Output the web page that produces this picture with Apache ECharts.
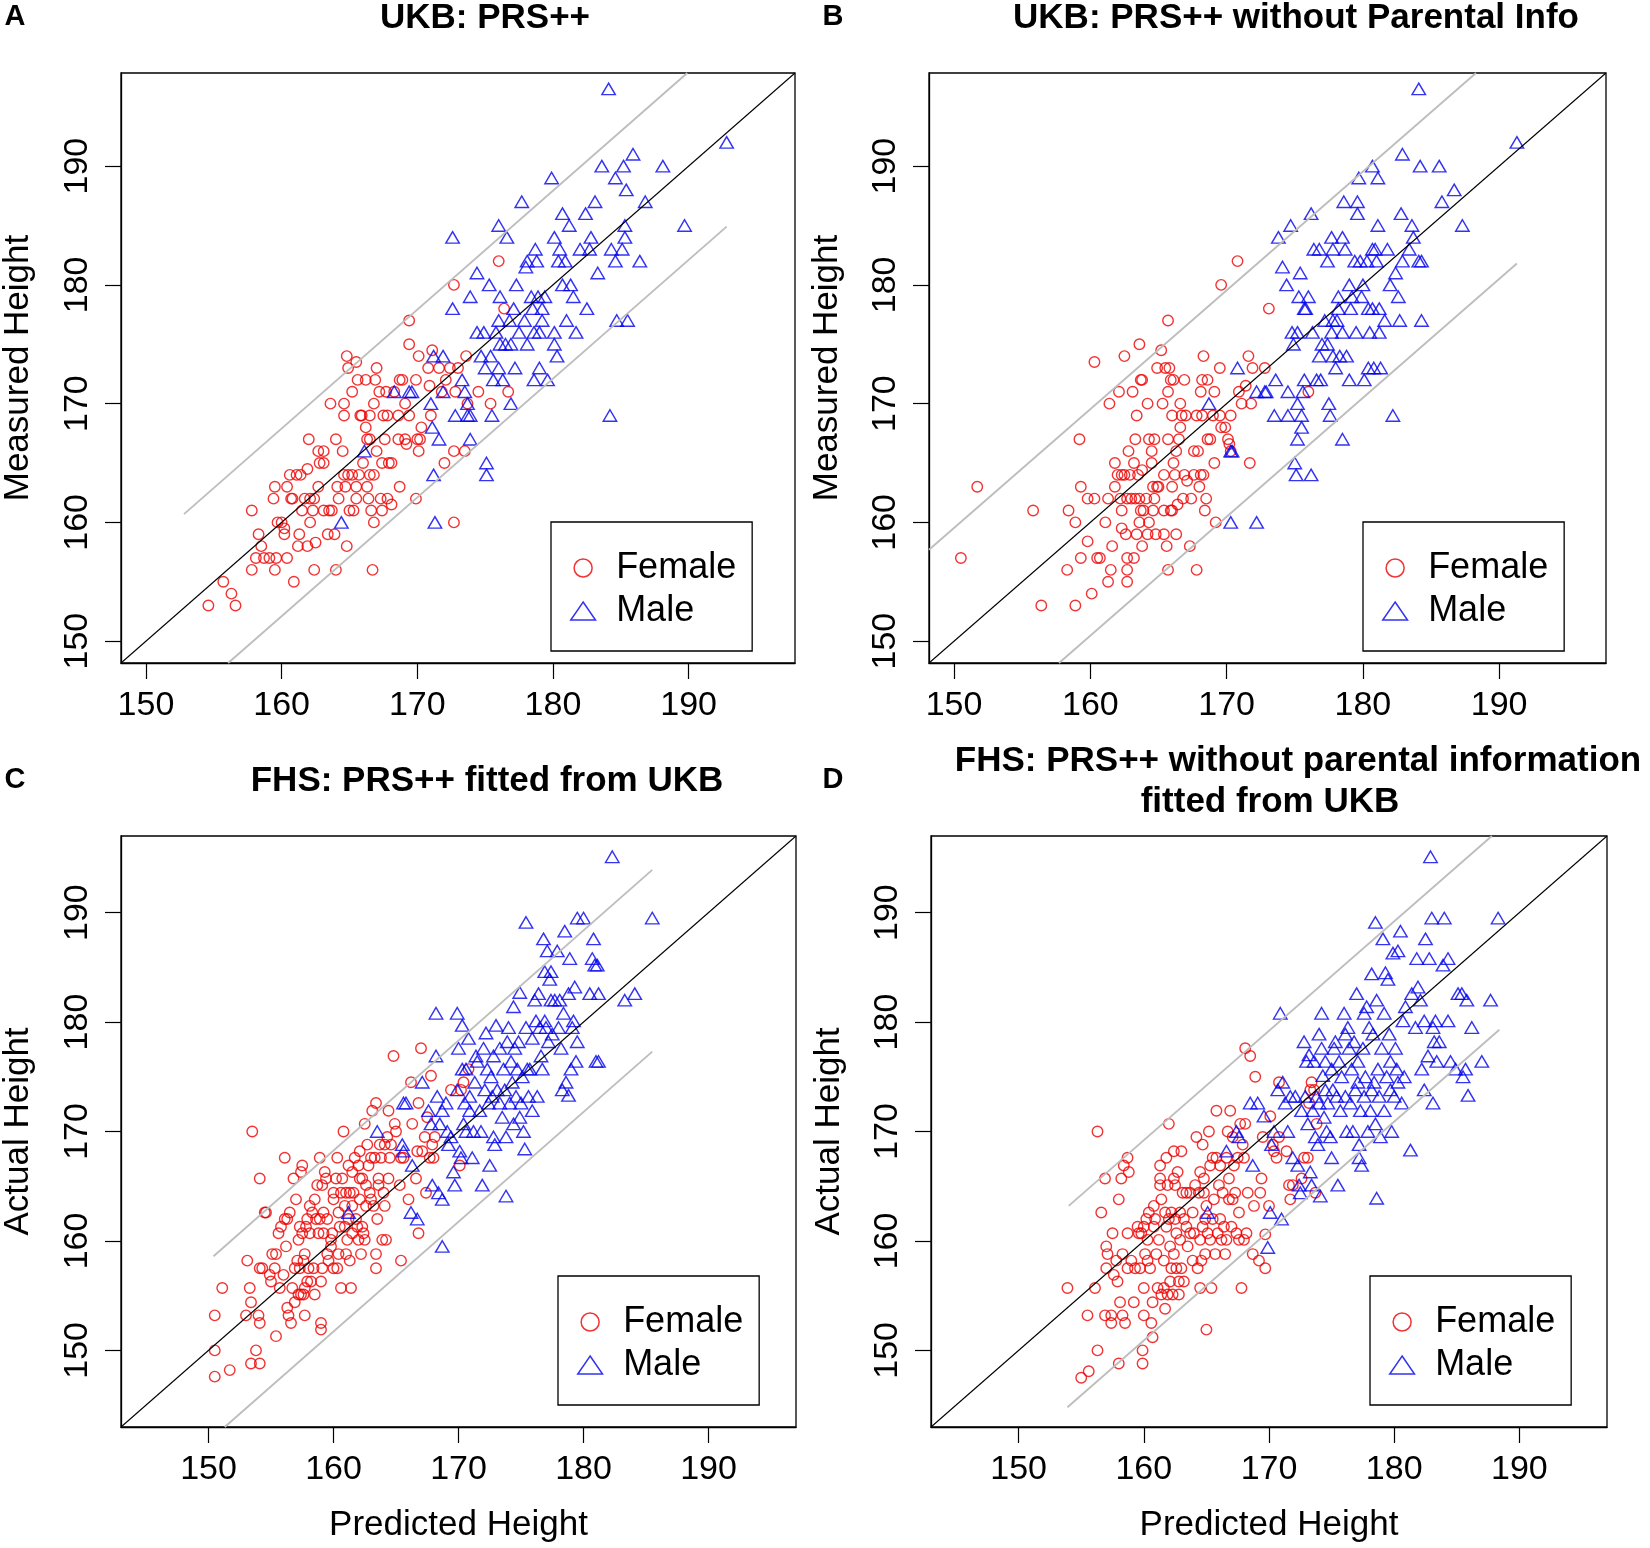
<!DOCTYPE html>
<html>
<head>
<meta charset="utf-8">
<script src="https://cdn.jsdelivr.net/npm/echarts@6.0.0/dist/echarts.min.js"></script>
<style>
html,body{margin:0;padding:0;background:#fff;}
#chart{width:1650px;height:1548px;}
</style>
</head>
<body>
<div id="chart"></div>
<script>
// ---------- Data (Predicted height, Measured/Actual height) ----------
const tickValues = [150, 160, 170, 180, 190];

const aFemale = [[154.6,153],[155.7,155],[156.3,154],[156.6,153],[157.8,156],[157.8,161],[158.1,157],[158.3,159],[158.5,158],[158.7,157],[159.1,157],[159.4,162],[159.5,163],[159.5,156],[159.6,157],[159.7,160],[160.0,160],[160.2,159.5],[160.2,159],[160.4,157],[160.4,163],[160.6,164],[160.7,162],[160.8,162],[160.9,155],[161.1,164],[161.3,159],[161.2,158],[161.4,164],[161.5,161],[161.7,162],[161.9,158],[161.9,164.5],[162.0,167],[162.1,160],[162.1,162],[162.3,161],[162.4,162],[162.4,156],[162.5,158.3],[162.7,166],[162.7,163],[162.8,165],[163.1,165],[163.1,166],[163.1,161],[163.4,159],[163.5,161],[163.6,170],[163.7,161],[163.9,159],[164.0,156],[164.0,167],[164.1,163],[164.2,162],[164.5,166],[164.6,169],[164.6,170],[164.6,164],[164.7,163],[164.8,158],[164.8,174],[164.9,173],[164.9,164],[165.0,161],[165.2,171],[165.2,164],[165.3,161],[165.5,162],[165.5,163],[165.5,173.5],[165.6,172],[165.7,164],[165.8,169],[165.9,169],[166.0,165],[166.2,172],[166.2,168],[166.3,167],[166.3,163],[166.4,162],[166.5,167],[166.5,169],[166.5,164],[166.6,161],[166.7,156],[166.8,170],[166.8,160],[166.8,164],[166.9,172],[167.0,173],[167.0,166],[167.2,171],[167.3,162],[167.4,165],[167.4,161],[167.5,169],[167.6,167],[167.7,171],[167.8,169],[167.8,162],[167.9,165],[168.1,161.5],[168.1,165],[168.3,171],[168.6,169],[168.6,167],[168.7,172],[168.7,163],[168.9,172],[169.1,167],[169.1,170],[169.2,166.6],[169.4,177],[169.4,175],[169.4,169],[169.9,172],[169.9,162],[170.0,167],[170.1,166],[170.1,174],[170.2,167],[170.3,168],[170.8,173],[170.9,171.5],[171.0,169],[171.1,174.5],[171.6,173],[171.8,171],[172.0,165],[172.1,172],[172.4,173],[172.7,180],[172.7,166],[172.7,160],[172.8,171],[173.0,173],[173.5,166],[173.6,174],[173.7,170],[174.5,171],[175.4,170],[176.0,182],[176.4,178],[176.7,171]];

const aMale = [[164.4,160],[166.1,166],[168.3,171],[169.4,171],[169.6,171],[171.0,170],[171.1,168],[171.2,164],[171.3,160],[171.2,174],[171.6,167],[171.9,174],[171.9,171],[172.6,184],[172.6,178],[172.8,169],[173.3,172],[173.5,171],[173.7,170],[173.7,169],[173.9,169],[173.9,167],[173.9,179],[174.4,181],[174.4,176],[174.7,174],[174.9,176],[175.0,173],[175.1,165],[175.1,164],[175.3,180],[175.4,174],[175.5,169],[175.6,172],[175.8,176],[176.0,173],[176.0,185],[176.0,177],[176.1,179],[176.1,175],[176.3,172],[176.5,175],[176.6,184],[176.8,177],[176.9,175],[176.9,170],[177.1,178],[177.2,173],[177.3,180],[177.5,176],[177.7,187],[177.9,177],[178.0,181.5],[178.1,175],[178.1,182],[178.4,179],[178.5,178],[178.6,176],[178.6,172],[178.7,183],[178.8,182],[178.9,179],[179.0,173],[179.0,176],[179.2,177],[179.2,178],[179.4,179],[179.6,172],[179.9,189],[180.1,176],[180.1,184],[180.1,175],[180.3,174],[180.4,182],[180.5,183],[180.7,186],[180.7,180],[180.9,182],[181.0,177],[181.2,185],[181.3,180],[181.5,179],[181.7,176],[182.0,183],[182.4,186],[182.5,178],[182.7,183],[182.8,184],[183.1,187],[183.3,181],[183.6,190],[184.1,196.5],[184.2,169],[184.3,183],[184.6,182],[184.6,189],[184.7,177],[185.1,183],[185.2,190],[185.3,184],[185.3,185],[185.4,188],[185.5,177],[185.9,191],[186.4,182],[186.8,187],[188.1,190],[189.7,185],[192.8,192]];

const bFemale = [[150.5,157],[151.7,163],[155.8,161],[156.4,153],[158.3,156],[158.4,161],[158.9,160],[158.9,153],[159.2,167],[159.3,157],[159.3,163],[159.8,162],[159.8,158.4],[160.1,154],[160.3,162],[160.3,173.5],[160.5,157],[160.7,157],[161.1,160],[161.3,155],[161.3,162],[161.4,170],[161.5,156],[161.6,158],[161.8,165],[161.8,163],[162.0,164],[162.1,171],[162.2,162],[162.3,164],[162.3,161],[162.3,159.5],[162.5,174],[162.5,164],[162.6,159],[162.7,156],[162.7,155],[162.7,157],[162.7,162],[162.8,166],[162.9,164],[163.0,162],[163.1,171],[163.2,157],[163.2,165],[163.3,162],[163.3,167],[163.4,169],[163.4,159],[163.5,164],[163.6,175],[163.6,162],[163.6,160],[163.7,172],[163.7,161],[163.8,164.4],[163.8,158],[163.8,172],[163.9,161],[164.1,162],[164.2,170],[164.2,159],[164.3,167],[164.3,160],[164.5,165],[164.5,166],[164.6,161],[164.6,163],[164.7,167],[164.7,162],[164.8,159],[164.9,163],[165.0,163],[164.9,173],[165.2,174.5],[165.3,170],[165.4,159],[165.4,164],[165.4,161],[165.5,173],[165.7,171],[165.6,158],[165.7,167],[165.7,156],[165.7,177],[165.8,173],[165.9,161],[165.9,172],[166.0,161],[166.0,163],[166.0,169],[166.1,172],[166.1,165],[166.2,164],[166.3,159],[166.3,166],[166.4,161.5],[166.5,167],[166.6,168],[166.6,170],[166.7,169],[166.8,162],[166.9,172],[166.9,164],[167.0,169],[167.1,163.5],[167.3,158],[167.4,162],[167.6,166],[167.6,164],[167.8,169],[167.8,156],[167.9,166],[168.0,163],[168.1,164],[168.1,171],[168.2,172],[168.2,169],[168.3,174],[168.3,164],[168.4,161],[168.5,162],[168.6,172],[168.6,167],[168.8,167],[169.0,169],[169.1,165],[169.1,171],[169.2,160],[169.5,173],[169.5,169],[169.6,168],[169.6,180],[169.9,168],[170.1,167],[170.2,166.6],[170.3,169],[170.3,166],[170.8,182],[170.9,171],[171.1,170],[171.4,171.5],[171.6,174],[171.7,165],[171.8,170],[171.9,173],[172.8,173],[173.1,178],[176.0,171]];

const bMale = [[168.7,170],[170.3,166],[170.4,166],[170.3,160],[170.8,173],[172.2,160],[172.2,171],[172.8,171],[172.9,171],[173.6,172],[173.5,169],[173.8,184],[174.1,181.5],[174.4,180],[174.5,171],[174.5,169],[174.7,185],[174.8,176],[174.9,175],[175.0,165],[175.1,164],[175.2,170],[175.2,167],[175.2,176],[175.3,179],[175.4,181],[175.5,169],[175.5,168],[175.6,171],[175.7,172],[175.7,178],[175.8,178],[176.0,179],[176.2,164],[176.2,186],[176.3,176],[176.4,183],[176.6,172],[176.8,183],[176.8,174],[176.9,172],[177.0,175],[177.2,177],[177.4,182],[177.4,175],[177.5,170],[177.6,169],[177.7,176],[177.7,184],[177.8,183],[177.8,177],[177.8,174],[178.0,173],[178.1,177],[178.2,178],[178.2,179],[178.3,174],[178.5,176],[178.5,184],[178.5,167],[178.6,187],[178.7,183],[178.8,174],[179.0,180],[179.0,172],[179.1,178],[179.2,179],[179.4,182],[179.5,176],[179.6,187],[179.6,186],[179.7,189],[179.8,182],[179.9,179],[180.0,180],[180.1,172],[180.3,182],[180.4,178],[180.4,173],[180.5,176],[180.7,190],[180.7,183],[180.7,178],[180.8,173],[180.9,183],[181.0,182],[181.1,189],[181.1,185],[181.2,176],[181.3,173],[181.2,178],[181.6,177],[181.8,183],[182.0,180],[182.2,169],[182.4,181],[182.6,179],[182.7,177],[182.8,186],[182.9,182],[182.9,191],[183.4,183],[183.6,185],[183.7,184],[184.1,182],[184.1,196.5],[184.2,190],[184.3,177],[184.3,182],[185.6,190],[185.8,187],[186.7,188],[187.3,185],[191.3,192]];

const cFemale = [[150.5,147.6],[150.5,150.0],[150.5,153.2],[151.1,155.7],[151.7,148.2],[153.0,153.2],[153.1,158.2],[153.3,155.7],[153.4,154.4],[153.5,170.0],[153.4,148.8],[153.8,150.0],[154.0,153.2],[154.1,148.8],[154.1,157.5],[154.1,165.7],[154.1,152.5],[154.3,157.5],[154.5,162.6],[154.6,162.6],[154.9,156.9],[155.0,156.3],[155.1,158.8],[155.3,157.5],[155.4,151.3],[155.4,158.8],[155.6,160.7],[155.7,155.7],[155.8,161.3],[156.0,156.9],[156.1,167.6],[156.1,162.0],[156.2,159.5],[156.3,162.0],[156.3,153.9],[156.4,153.2],[156.5,162.6],[156.6,152.5],[156.7,155.7],[156.8,165.7],[156.9,157.5],[156.9,154.4],[157.0,163.8],[157.1,158.2],[157.2,160.1],[157.2,155.1],[157.3,157.5],[157.3,161.3],[157.4,166.3],[157.4,155.1],[157.5,166.9],[157.5,160.7],[157.6,158.2],[157.7,155.7],[157.7,158.8],[157.7,153.2],[157.8,161.3],[157.9,156.3],[157.9,162.0],[158.0,157.5],[158.1,163.2],[158.1,160.7],[158.2,156.3],[158.3,162.6],[158.4,157.5],[158.5,155.1],[158.5,163.8],[158.6,162.0],[158.7,165.1],[158.8,160.7],[158.9,167.6],[158.9,162.0],[159.0,152.5],[159.0,151.9],[159.0,156.3],[159.1,157.5],[159.1,165.1],[159.2,162.6],[159.2,160.7],[159.3,166.3],[159.4,165.7],[159.5,158.8],[159.5,162.0],[159.6,158.2],[159.8,159.5],[159.8,160.1],[159.9,160.7],[160.0,157.5],[160.0,164.4],[160.0,163.8],[160.2,165.7],[160.3,167.6],[160.3,157.5],[160.4,158.8],[160.4,162.6],[160.5,161.3],[160.6,155.7],[160.6,164.4],[160.7,165.7],[160.8,170.0],[160.9,163.2],[160.9,161.3],[161.0,158.8],[161.0,164.4],[161.1,160.1],[161.2,162.0],[161.2,166.9],[161.3,158.2],[161.3,164.4],[161.4,155.7],[161.5,166.3],[161.5,163.2],[161.5,160.7],[161.6,164.4],[161.7,167.6],[161.8,162.0],[161.9,161.3],[162.0,160.1],[162.0,166.9],[162.1,165.7],[162.1,168.2],[162.1,163.8],[162.2,158.8],[162.3,161.3],[162.3,165.7],[162.4,160.7],[162.5,170.7],[162.5,160.1],[162.6,165.1],[162.6,163.2],[162.7,168.8],[162.8,166.9],[162.9,164.4],[163.0,167.6],[163.0,163.8],[163.1,171.9],[163.2,163.2],[163.3,167.6],[163.4,172.6],[163.4,157.5],[163.4,158.8],[163.5,162.0],[163.6,165.7],[163.6,165.1],[163.7,168.8],[163.8,167.6],[163.9,160.1],[164.0,164.4],[164.1,163.2],[164.1,168.8],[164.2,160.1],[164.3,169.5],[164.4,171.9],[164.4,165.7],[164.5,167.6],[164.6,168.8],[164.8,176.9],[164.9,170.7],[165.0,170.0],[165.3,165.1],[165.4,167.6],[165.4,158.2],[165.6,167.6],[166.0,163.8],[166.2,174.5],[166.3,170.7],[166.6,165.7],[166.7,168.2],[166.8,172.6],[166.8,160.7],[167.0,177.6],[167.1,168.2],[167.3,169.5],[167.4,164.4],[167.5,171.3],[167.7,167.6],[167.8,175.1],[167.9,168.8],[168.0,167.6],[168.1,169.5],[169.4,173.8],[170.1,166.9],[170.2,173.8],[170.4,174.5],[170.8,175.7],[157.6,155.1]];

const cMale = [[161.2,162.6],[163.5,170.0],[165.5,168.8],[165.6,168.2],[165.8,172.6],[165.6,172.6],[166.2,162.6],[166.3,166.9],[166.7,162.0],[167.1,174.5],[167.6,171.9],[167.8,170.7],[167.9,165.1],[168.2,176.9],[168.2,180.8],[168.3,173.2],[168.4,164.4],[168.5,170.7],[168.7,163.8],[168.7,159.5],[168.7,171.9],[169.0,172.6],[169.1,170.0],[169.2,168.8],[169.4,169.5],[169.6,166.3],[169.7,165.1],[169.9,173.8],[169.9,180.8],[170.0,177.6],[170.1,168.2],[170.2,167.6],[170.3,175.7],[170.3,179.7],[170.4,170.7],[170.5,172.6],[170.6,170.0],[170.6,175.7],[170.8,178.5],[170.9,171.9],[170.9,173.2],[171.1,167.6],[171.2,170.0],[171.3,174.5],[171.4,176.9],[171.5,176.4],[171.7,171.9],[171.8,170.0],[171.9,165.1],[172.0,177.6],[172.1,173.8],[172.2,179.0],[172.3,175.7],[172.4,172.6],[172.5,166.9],[172.6,175.0],[172.7,173.2],[172.8,169.5],[172.8,176.9],[172.9,168.8],[173.0,179.7],[173.1,173.8],[173.3,172.6],[173.3,177.6],[173.5,171.3],[173.6,175.7],[173.7,173.8],[173.8,164.1],[173.8,169.5],[173.9,178.2],[174.0,179.5],[174.1,172.6],[174.2,176.4],[174.3,174.5],[174.4,181.4],[174.4,170.7],[174.5,177.6],[174.6,173.2],[174.7,175.7],[174.8,178.2],[174.9,171.3],[174.9,182.7],[175.0,172.6],[175.1,175.0],[175.2,170.0],[175.3,168.4],[175.4,189.1],[175.4,179.5],[175.5,175.7],[175.6,173.2],[175.7,175.7],[175.9,178.5],[175.9,171.9],[176.1,182.0],[176.2,180.1],[176.3,173.2],[176.4,182.6],[176.5,179.5],[176.6,176.9],[176.7,175.7],[176.8,187.6],[176.9,184.6],[176.9,180.1],[177.0,179.5],[177.1,186.5],[177.2,178.2],[177.3,183.9],[177.4,182.0],[177.4,184.6],[177.5,178.9],[177.7,182.0],[177.9,186.5],[178.0,179.5],[178.1,182.0],[178.2,177.6],[178.3,173.8],[178.4,180.8],[178.5,188.3],[178.6,174.5],[178.8,173.3],[178.8,182.6],[178.9,185.8],[179.0,175.7],[179.1,179.5],[179.2,180.1],[179.3,183.2],[179.4,176.4],[179.5,178.2],[179.5,189.5],[180.0,189.5],[180.7,185.8],[180.8,187.6],[180.5,182.6],[180.9,185.2],[181.0,176.4],[181.1,185.2],[181.2,182.6],[181.2,176.4],[183.3,182.0],[184.1,182.6],[182.3,195.1],[185.5,189.5]];

const dFemale = [[153.9,155.7],[155.0,147.5],[155.6,148.1],[155.5,153.2],[156.1,155.7],[156.3,150.0],[156.3,170.0],[156.6,162.6],[156.9,153.2],[156.9,165.7],[157.0,159.5],[157.0,157.5],[157.1,158.8],[157.4,153.2],[157.4,152.5],[157.5,160.7],[157.6,156.9],[157.8,158.2],[157.9,156.3],[158.0,148.8],[158.0,163.8],[158.1,154.4],[158.2,165.7],[158.3,158.8],[158.3,153.2],[158.4,166.9],[158.5,152.5],[158.7,157.5],[158.7,167.6],[158.7,160.7],[158.8,166.3],[159.0,158.2],[159.2,154.4],[159.3,157.5],[159.5,161.3],[159.6,160.7],[159.7,157.5],[159.8,160.7],[159.9,150.0],[159.9,148.8],[160.0,153.2],[160.0,161.3],[160.0,155.7],[160.1,158.8],[160.2,162.0],[160.3,160.1],[160.3,158.2],[160.4,162.6],[160.5,157.5],[160.6,152.5],[160.7,151.2],[160.7,154.4],[160.8,161.3],[160.8,163.2],[160.9,162.0],[161.0,158.8],[161.1,155.7],[161.2,160.1],[161.3,165.1],[161.3,166.9],[161.3,165.7],[161.4,163.8],[161.4,155.1],[161.6,155.7],[161.6,158.2],[161.7,162.6],[161.7,153.8],[161.8,167.6],[161.8,161.3],[161.9,165.1],[161.9,155.1],[162.0,162.0],[162.0,170.7],[162.1,159.5],[162.1,156.3],[162.2,157.5],[162.2,162.6],[162.3,155.1],[162.4,158.8],[162.4,168.2],[162.4,165.7],[162.5,162.0],[162.5,165.1],[162.6,160.7],[162.6,157.5],[162.7,166.3],[162.8,156.3],[162.8,155.1],[162.9,162.6],[162.9,160.1],[163.0,168.2],[163.0,157.5],[163.1,164.4],[163.2,162.0],[163.2,156.3],[163.4,164.4],[163.4,161.3],[163.5,159.5],[163.7,164.4],[163.7,160.7],[163.9,162.6],[163.9,158.2],[164.0,160.7],[164.1,165.1],[164.2,169.5],[164.3,157.5],[164.4,164.4],[164.5,155.7],[164.5,166.3],[164.5,160.1],[164.6,158.2],[164.7,168.8],[164.7,161.3],[164.8,164.4],[164.8,165.7],[164.9,162.0],[164.9,158.8],[165.0,163.2],[165.0,151.9],[165.1,160.7],[165.2,170.0],[165.3,166.9],[165.3,160.1],[165.4,155.7],[165.5,167.6],[165.5,162.0],[165.6,163.8],[165.7,158.8],[165.8,171.9],[165.8,167.6],[165.9,160.7],[166.0,165.1],[166.1,162.0],[166.1,166.9],[166.2,160.1],[166.3,164.4],[166.4,161.3],[166.5,158.8],[166.6,167.6],[166.6,160.1],[166.7,170.0],[166.8,165.7],[166.8,163.8],[166.9,171.9],[167.0,161.3],[167.1,169.5],[167.1,163.8],[167.2,166.9],[167.3,164.4],[167.4,160.7],[167.5,167.6],[167.6,160.1],[167.6,162.6],[167.7,170.7],[167.8,155.7],[167.9,168.8],[168.0,160.1],[168.0,167.6],[168.1,177.6],[168.1,170.7],[168.2,160.7],[168.3,164.4],[168.5,176.9],[168.7,158.8],[168.8,163.2],[168.9,175.0],[169.2,158.2],[169.3,164.4],[169.4,165.7],[169.5,169.5],[169.7,157.5],[169.7,160.6],[170.0,163.2],[170.1,171.4],[170.3,168.8],[170.4,168.2],[170.6,167.6],[170.8,174.5],[170.8,169.5],[171.4,168.2],[171.6,165.1],[171.7,163.8],[171.9,165.1],[172.8,167.6],[173.1,167.6],[173.2,172.6],[173.3,173.8],[173.4,174.5],[173.6,173.8],[173.8,170.7],[173.7,164.4],[172.6,165.7]];

const dMale = [[165.1,162.6],[166.6,168.2],[167.4,170.0],[167.6,169.5],[168.5,172.6],[168.7,166.9],[169.1,172.6],[169.6,171.4],[169.9,159.4],[170.1,162.6],[170.2,168.8],[170.4,170.0],[170.7,173.8],[170.9,180.8],[171.0,162.0],[171.1,174.5],[171.3,172.6],[171.5,170.0],[171.7,173.2],[171.9,167.6],[172.1,173.2],[172.3,166.9],[172.4,165.1],[172.5,164.4],[172.6,171.9],[172.8,178.2],[172.9,173.2],[173.0,176.4],[173.1,170.7],[173.2,177.0],[173.3,166.3],[173.4,165.1],[173.5,171.9],[173.6,176.4],[173.7,169.5],[173.8,173.2],[173.9,168.8],[174.0,178.9],[174.0,172.6],[174.1,164.1],[174.2,180.8],[174.2,177.6],[174.3,175.1],[174.4,171.3],[174.5,173.8],[174.5,176.4],[174.6,170.0],[174.7,172.6],[174.9,169.5],[175.0,175.7],[175.0,167.6],[175.1,173.8],[175.2,177.6],[175.3,178.2],[175.4,173.2],[175.5,165.1],[175.6,176.4],[175.7,171.9],[175.8,175.0],[176.0,180.8],[176.1,178.9],[176.1,173.2],[176.2,170.0],[176.3,179.5],[176.4,177.6],[176.5,172.6],[176.6,175.7],[176.7,170.0],[176.8,178.2],[176.9,173.8],[177.0,182.6],[177.1,176.4],[177.1,174.5],[177.2,167.6],[177.2,168.8],[177.3,171.9],[177.4,166.9],[177.5,177.6],[177.6,180.8],[177.6,173.2],[177.7,175.0],[177.8,181.4],[177.9,170.0],[178.0,179.5],[178.1,171.9],[178.2,173.8],[178.2,184.4],[178.3,178.9],[178.4,174.5],[178.5,170.7],[178.5,189.1],[178.6,182.0],[178.6,163.9],[178.7,175.7],[178.8,173.2],[178.9,169.5],[179.0,177.6],[179.1,187.6],[179.2,180.8],[179.2,171.9],[179.3,184.5],[179.4,175.0],[179.5,183.9],[179.6,178.9],[179.7,173.8],[179.7,176.4],[179.8,170.0],[179.9,186.3],[180.0,173.2],[180.1,177.6],[180.2,175.7],[180.3,186.5],[180.3,174.5],[180.5,188.3],[180.6,172.6],[180.7,180.1],[180.8,175.0],[180.9,181.4],[181.3,168.3],[181.4,182.6],[181.7,179.5],[181.8,185.8],[181.9,183.2],[182.1,182.0],[182.2,175.7],[182.4,173.8],[182.4,180.1],[182.5,187.6],[182.7,176.9],[182.8,185.8],[182.9,195.1],[183.0,189.5],[183.1,179.5],[183.1,172.6],[183.2,178.2],[183.3,180.1],[183.4,176.4],[183.6,178.2],[183.9,185.2],[184.0,189.5],[184.3,180.1],[184.3,185.8],[184.5,176.4],[184.9,175.7],[185.1,182.6],[185.4,182.6],[185.5,175.0],[185.7,175.7],[185.8,182.0],[185.9,173.3],[186.2,179.5],[187.0,176.4],[187.7,182.0],[188.3,189.5]];

// grey prediction-band lines
const aUpper = [[152.8,160.7],[189.9,197.84]];
const aLower = [[156.06,148.16],[192.8,184.9]];
const bUpper = [[148.16,157.7],[188.3,197.84]];
const bLower = [[157.7,148.16],[191.3,181.8]];
const cUpper = [[150.4,158.6],[185.5,193.9]];
const cLower = [[151.3,143.0],[185.5,177.3]];
const dUpper = [[154.0,163.2],[187.8,197.0]];
const dLower = [[153.9,144.8],[188.4,179.3]];

const limitsUKB = [148.16, 197.84];
const limitsFHS = [143.0, 197.0];

const titles = ['UKB: PRS++', 'UKB: PRS++ without Parental Info', 'FHS: PRS++ fitted from UKB', 'FHS: PRS++ without parental information', 'fitted from UKB'];
const letters = ['A', 'B', 'C', 'D'];
const legendNames = ['Female', 'Male'];

// ---------- Build chart ----------
const FONT = "'Liberation Sans', Arial, Helvetica, sans-serif";
const RED = '#ee0000';
const BLUE = '#0000ee';
const GREY = '#bdbdbd';

const panels = [
  {grid:{left:117, top:73, width:678, height:590}, lim:limitsUKB, f:aFemale, m:aMale, up:aUpper, lo:aLower, yName:'Measured Height', xName:'', legend:{left:551, top:522}},
  {grid:{left:929, top:73, width:677, height:590}, lim:limitsUKB, f:bFemale, m:bMale, up:bUpper, lo:bLower, yName:'Measured Height', xName:'', legend:{left:1363, top:522}},
  {grid:{left:120, top:836, width:676, height:591}, lim:limitsFHS, f:cFemale, m:cMale, up:cUpper, lo:cLower, yName:'Actual Height', xName:'Predicted Height', legend:{left:558, top:1276}},
  {grid:{left:931, top:836, width:676, height:591}, lim:limitsFHS, f:dFemale, m:dMale, up:dUpper, lo:dLower, yName:'Actual Height', xName:'Predicted Height', legend:{left:1370, top:1276}}
];

const grids = [], xAxes = [], yAxes = [], series = [], legends = [];
const axisLabelBase = {color:'#000', fontSize:34, fontFamily:FONT, customValues:tickValues};
const tickBase = {show:true, inside:false, length:16, lineStyle:{color:'#000', width:1.2}, customValues:tickValues};

panels.forEach((p, i) => {
  grids.push(Object.assign({show:true, borderColor:'#000', borderWidth:1.3, backgroundColor:'transparent'}, p.grid));
  xAxes.push({
    type:'value', gridIndex:i, min:p.lim[0], max:p.lim[1],
    axisLine:{show:true, onZero:false, lineStyle:{color:'#000', width:1.3}},
    axisTick:tickBase,
    axisLabel:Object.assign({margin:26}, axisLabelBase),
    splitLine:{show:false},
    name:p.xName, nameLocation:'middle', nameGap:81,
    nameTextStyle:{color:'#000', fontSize:35, fontFamily:FONT}
  });
  yAxes.push({
    type:'value', gridIndex:i, min:p.lim[0], max:p.lim[1],
    axisLine:{show:true, onZero:false, lineStyle:{color:'#000', width:1.3}},
    axisTick:tickBase,
    axisLabel:Object.assign({margin:26, rotate:90}, axisLabelBase),
    splitLine:{show:false},
    name:p.yName, nameLocation:'middle', nameGap:(i % 2 === 0 ? 85 : 84),
    nameTextStyle:{color:'#000', fontSize:35, fontFamily:FONT}
  });
  series.push({
    type:'scatter', name:'Female', xAxisIndex:i, yAxisIndex:i, data:p.f,
    symbol:'circle', symbolSize:10.5, silent:true,
    itemStyle:{color:'rgba(255,255,255,0)', borderColor:RED, borderWidth:1.4},
    z:3
  });
  series.push({
    type:'scatter', name:'Male', xAxisIndex:i, yAxisIndex:i, data:p.m,
    symbol:'triangle', symbolSize:[13.5,11.5], silent:true,
    itemStyle:{color:'rgba(255,255,255,0)', borderColor:BLUE, borderWidth:1.4},
    z:3
  });
  const lineBase = {type:'line', xAxisIndex:i, yAxisIndex:i, symbol:'none', silent:true, clip:true, z:4};
  series.push(Object.assign({name:'diag'+i, data:[[p.lim[0],p.lim[0]],[p.lim[1],p.lim[1]]], lineStyle:{color:'#000', width:1.1}}, lineBase));
  series.push(Object.assign({name:'upper'+i, data:p.up, lineStyle:{color:GREY, width:1.8}}, lineBase));
  series.push(Object.assign({name:'lower'+i, data:p.lo, lineStyle:{color:GREY, width:1.8}}, lineBase));
  legends.push({
    left:p.legend.left, top:p.legend.top, orient:'vertical',
    padding:[28,16,22,19], itemGap:7, itemWidth:56, itemHeight:18,
    borderColor:'#000', borderWidth:1.3, backgroundColor:'#fff', borderRadius:0,
    selectedMode:false, symbolKeepAspect:true,
    itemStyle:{borderWidth:1.5},
    textStyle:{color:'#000', fontSize:36, fontFamily:FONT, lineHeight:36},
    data:[{name:legendNames[0], icon:'circle'}, {name:legendNames[1], icon:'path://M11,0 L22,16 L0,16 Z'}]
  });
});

const titleStyle = {fill:'#000', fontSize:35, fontWeight:'bold', fontFamily:FONT, align:'center', verticalAlign:'middle'};
const letterStyle = {fill:'#000', fontSize:29, fontWeight:'bold', fontFamily:FONT, align:'center', verticalAlign:'middle'};
const graphics = [
  {type:'text', x:485, y:18, style:Object.assign({text:titles[0]}, titleStyle)},
  {type:'text', x:1296, y:18, style:Object.assign({text:titles[1]}, titleStyle)},
  {type:'text', x:487, y:781, style:Object.assign({text:titles[2]}, titleStyle)},
  {type:'text', x:1298, y:761, style:Object.assign({text:titles[3]}, titleStyle)},
  {type:'text', x:1270, y:802, style:Object.assign({text:titles[4]}, titleStyle)},
  {type:'text', x:15, y:17, style:Object.assign({text:letters[0]}, letterStyle)},
  {type:'text', x:833, y:17, style:Object.assign({text:letters[1]}, letterStyle)},
  {type:'text', x:15, y:780, style:Object.assign({text:letters[2]}, letterStyle)},
  {type:'text', x:833, y:780, style:Object.assign({text:letters[3]}, letterStyle)}
];

const chart = echarts.init(document.getElementById('chart'), null, {renderer:'canvas'});
chart.setOption({
  backgroundColor:'#fff',
  animation:false,
  textStyle:{fontFamily:FONT},
  grid:grids, xAxis:xAxes, yAxis:yAxes, series:series, legend:legends,
  graphic:graphics
});
</script>
</body>
</html>
